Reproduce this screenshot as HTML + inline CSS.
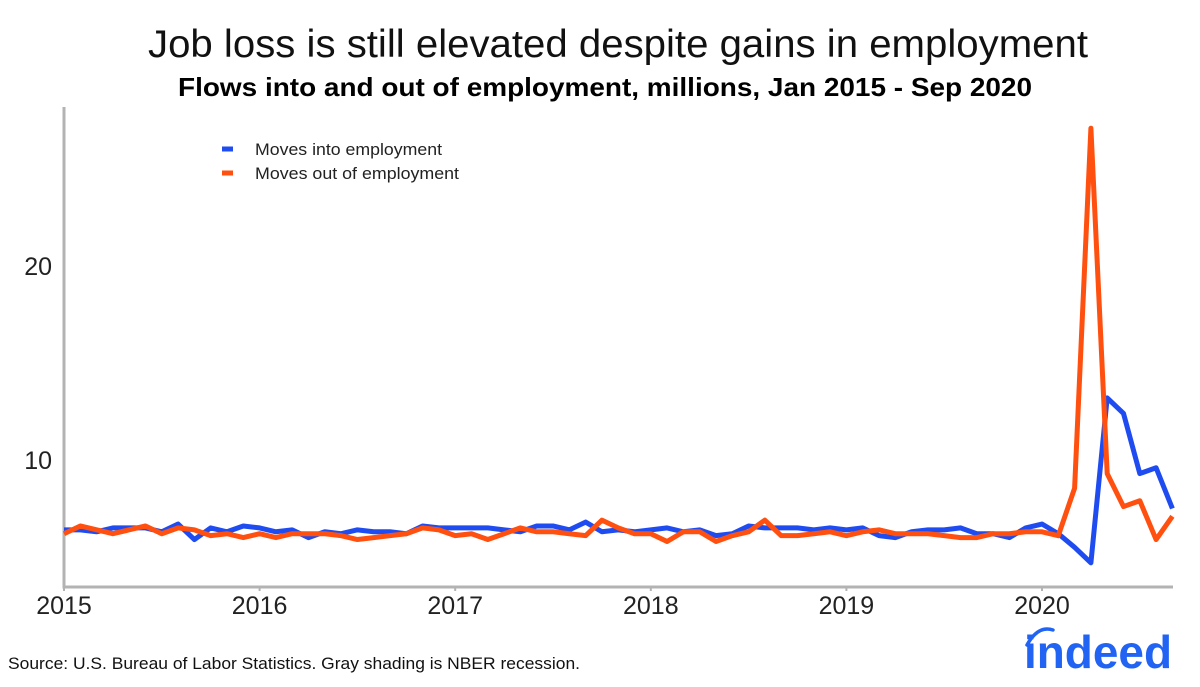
<!DOCTYPE html>
<html><head><meta charset="utf-8"><style>
body{margin:0;background:#fff;font-family:"Liberation Sans",sans-serif}
svg text{font-family:"Liberation Sans",sans-serif}
</style></head><body>
<svg width="1200" height="682" viewBox="0 0 1200 682">
<text x="148" y="57" font-size="39" fill="#111" textLength="940" lengthAdjust="spacingAndGlyphs">Job loss is still elevated despite gains in employment</text>
<text x="178" y="96" font-size="26" font-weight="bold" fill="#000" textLength="854" lengthAdjust="spacingAndGlyphs">Flows into and out of employment, millions, Jan 2015 - Sep 2020</text>
<g id="axes"></g>
<g id="series"></g>
<line x1="222" y1="149" x2="233" y2="149" stroke="#1f4cf0" stroke-width="5"/>
<text x="255" y="155" font-size="17" fill="#222" textLength="187" lengthAdjust="spacingAndGlyphs">Moves into employment</text>
<line x1="222" y1="173" x2="233" y2="173" stroke="#ff5010" stroke-width="5"/>
<text x="255" y="179" font-size="17" fill="#222" textLength="204" lengthAdjust="spacingAndGlyphs">Moves out of employment</text>
<text x="8" y="669" font-size="17" fill="#111" textLength="572" lengthAdjust="spacingAndGlyphs">Source: U.S. Bureau of Labor Statistics. Gray shading is NBER recession.</text>
<g>
<path d="M1027 645 Q1038 625 1053 630" fill="none" stroke="#2164f3" stroke-width="3.5" stroke-linecap="round"/>
<text x="1024" y="668" font-size="46" font-weight="bold" fill="#2164f3" textLength="148" lengthAdjust="spacingAndGlyphs">indeed</text>
</g>
</svg>
<script>
const years=["2015","2016","2017","2018","2019","2020"];
const yTicks=[10,20];
const intoEmp=[6.4,6.4,6.3,6.5,6.5,6.5,6.3,6.7,5.9,6.5,6.3,6.6,
6.5,6.3,6.4,6.0,6.3,6.2,6.4,6.3,6.3,6.2,6.6,6.5,
6.5,6.5,6.5,6.4,6.3,6.6,6.6,6.4,6.8,6.3,6.4,6.3,
6.4,6.5,6.3,6.4,6.1,6.2,6.6,6.5,6.5,6.5,6.4,6.5,
6.4,6.5,6.1,6.0,6.3,6.4,6.4,6.5,6.2,6.2,6.0,6.5,
6.7,6.2,5.5,4.7,13.2,12.4,9.3,9.6,7.5];
const outEmp=[6.2,6.6,6.4,6.2,6.4,6.6,6.2,6.5,6.4,6.1,6.2,6.0,
6.2,6.0,6.2,6.2,6.2,6.1,5.9,6.0,6.1,6.2,6.5,6.4,
6.1,6.2,5.9,6.2,6.5,6.3,6.3,6.2,6.1,6.9,6.5,6.2,
6.2,5.8,6.3,6.3,5.8,6.1,6.3,6.9,6.1,6.1,6.2,6.3,
6.1,6.3,6.4,6.2,6.2,6.2,6.1,6.0,6.0,6.2,6.2,6.3,
6.3,6.1,8.55,27.1,9.3,7.6,7.9,5.9,7.1];
const NS="http://www.w3.org/2000/svg";
const X0=64,MW=16.3,Y0=654,YS=19.4;
function xs(i){return X0+i*MW;}
function ys(v){return Y0-v*YS;}
function mk(t,a,p){const e=document.createElementNS(NS,t);for(const k in a)e.setAttribute(k,a[k]);p.appendChild(e);return e;}
const ax=document.getElementById('axes');
let l=mk('line',{x1:64,y1:107,x2:64,y2:588,stroke:'#b3b3b3','stroke-width':3},ax);


l=mk('line',{x1:62.5,y1:587,x2:1173,y2:587,stroke:'#b3b3b3','stroke-width':3},ax);


yTicks.forEach(v=>{const t=mk('text',{x:52,y:ys(v)+9,'text-anchor':'end','font-size':25,fill:'#222'},ax);t.textContent=v;

});
years.forEach((y,i)=>{const x=xs(i*12);
const tk=mk('line',{x1:x,y1:587,x2:x,y2:591,stroke:'#b3b3b3','stroke-width':2},ax);


const t=mk('text',{x:x,y:614,'text-anchor':'middle','font-size':25,fill:'#222'},ax);t.textContent=y;

});
const sg=document.getElementById('series');
function line(d,c,n){const p=mk('polyline',{points:d.map((v,i)=>xs(i)+','+ys(v)).join(' '),fill:'none',stroke:c,'stroke-width':5,'stroke-linejoin':'round'},sg);

}
line(intoEmp,'#1f4cf0','line-moves-into-employment');
line(outEmp,'#ff5010','line-moves-out-of-employment');
</script>
</body></html>
